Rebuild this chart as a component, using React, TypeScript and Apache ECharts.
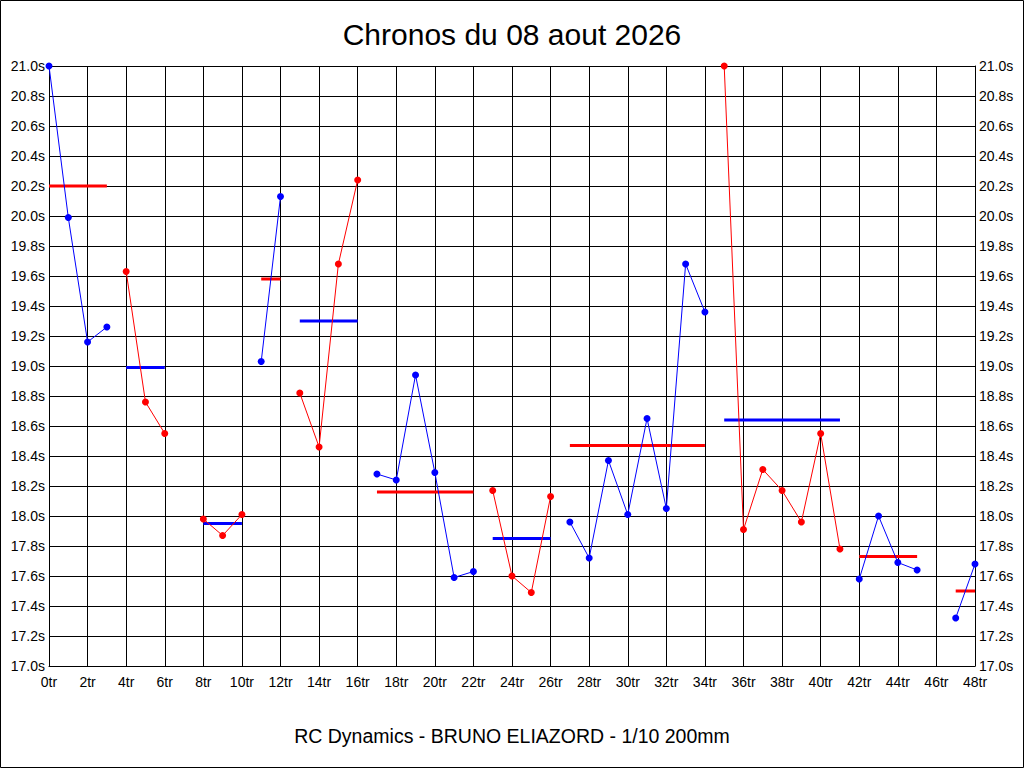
import React, { useEffect, useRef } from "react";
import * as echarts from "echarts";

const titleText = "Chronos du 08 aout 2026";
const footerText = "RC Dynamics - BRUNO ELIAZORD - 1/10 200mm";

// lap times per run (seconds), first lap index of each run
const run1 = [21.0, 19.99, 19.16, 19.26];
const run2 = [19.63, 18.76, 18.55];
const run3 = [17.98, 17.87, 18.01];
const run4 = [19.03, 20.13];
const run5 = [18.82, 18.46, 19.68, 20.24];
const run6 = [18.28, 18.24, 18.94, 18.29, 17.59, 17.63];
const run7 = [18.17, 17.6, 17.49, 18.13];
const run8 = [17.96, 17.72, 18.37, 18.01, 18.65, 18.05, 19.68, 19.36];
const run9 = [21.0, 17.91, 18.31, 18.17, 17.96, 18.55, 17.78];
const run10 = [17.58, 18.0, 17.69, 17.64];
const run11 = [17.32, 17.68];

const runStarts = [0, 4, 8, 11, 13, 17, 23, 27, 35, 42, 47];
const runMeans = [20.2, 18.99, 17.95, 19.58, 19.3, 18.16, 17.85, 18.47, 18.64, 17.73, 17.5];
const runColors = ["blue", "red", "red", "blue", "red", "blue", "red", "blue", "red", "blue", "blue"];

const runs = [run1, run2, run3, run4, run5, run6, run7, run8, run9, run10, run11];

const BLUE = "#0000ff";
const RED = "#ff0000";
const FONT = "Liberation Sans, Arial, sans-serif";

export default function App() {
  const ref = useRef<HTMLDivElement>(null);
  useEffect(() => {
    document.body.style.margin = "0";
    const chart = echarts.init(ref.current!, null, { renderer: "svg" });
    const series: any[] = [];
    runs.forEach((vals, i) => {
      const start = runStarts[i];
      const c = runColors[i] === "blue" ? BLUE : RED;
      const mc = runColors[i] === "blue" ? RED : BLUE;
      series.push({
        type: "line",
        data: vals.map((v, k) => [start + k, v]),
        lineStyle: { color: c, width: 1 },
        itemStyle: { color: c },
        symbol: "circle",
        symbolSize: 7,
        showSymbol: true,
        clip: false,
        z: 3,
      });
      series.push({
        type: "line",
        data: [
          [start, runMeans[i]],
          [start + vals.length - 1, runMeans[i]],
        ],
        lineStyle: { color: mc, width: 3 },
        symbol: "none",
        z: 2,
      });
    });
    const axisLabel = {
      color: "#000",
      fontSize: 14,
      fontFamily: FONT,
    };
    chart.setOption({
      animation: false,
      backgroundColor: "#fff",
      title: [
        {
          text: titleText,
          left: "center",
          top: 14,
          textStyle: { fontSize: 30, fontWeight: "normal", color: "#000", fontFamily: FONT },
        },
        {
          text: footerText,
          left: "center",
          top: 721,
          textStyle: { fontSize: 19.5, fontWeight: "normal", color: "#000", fontFamily: FONT },
        },
      ],
      graphic: [
        {
          type: "rect",
          shape: { x: 0.5, y: 0.5, width: 1023, height: 767 },
          style: { fill: "none", stroke: "#000", lineWidth: 1 },
          silent: true,
        },
      ],
      grid: { left: 49, right: 49, top: 66, bottom: 102, containLabel: false },
      xAxis: {
        type: "value",
        min: 0,
        max: 48,
        interval: 2,
        axisLine: { show: true, lineStyle: { color: "#000", width: 1 } },
        axisTick: { show: false },
        axisLabel: { ...axisLabel, margin: 9, formatter: (v: number) => v + "tr" },
        splitLine: { show: true, lineStyle: { color: "#000", width: 1 } },
      },
      yAxis: [
        {
          type: "value",
          min: 17,
          max: 21,
          interval: 0.2,
          position: "left",
          axisLine: { show: true, lineStyle: { color: "#000", width: 1 } },
          axisTick: { show: false },
          axisLabel: { ...axisLabel, margin: 4, formatter: (v: number) => v.toFixed(1) + "s" },
          splitLine: { show: true, lineStyle: { color: "#000", width: 1 } },
        },
        {
          type: "value",
          min: 17,
          max: 21,
          interval: 0.2,
          position: "right",
          axisLine: { show: true, lineStyle: { color: "#000", width: 1 } },
          axisTick: { show: false },
          axisLabel: { ...axisLabel, margin: 4, formatter: (v: number) => v.toFixed(1) + "s" },
          splitLine: { show: false },
        },
      ],
      series,
    });
    return () => chart.dispose();
  }, []);
  return <div ref={ref} style={{ width: 1024, height: 768 }} />;
}
